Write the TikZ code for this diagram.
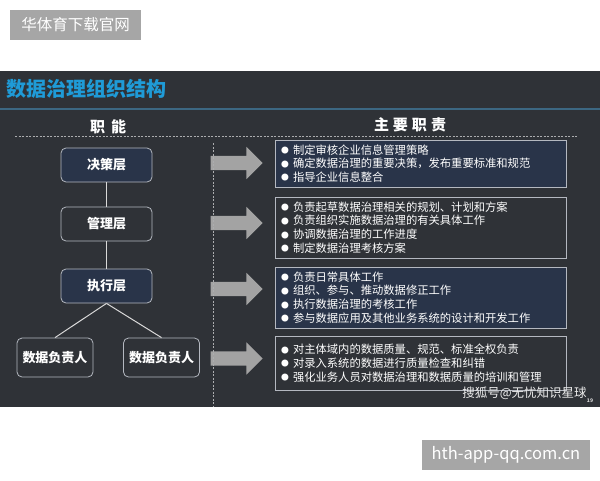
\documentclass[tikz,border=0pt]{standalone}
\usepackage{fontspec}
\setmainfont{Noto Sans CJK SC}
\usepackage{xcolor}
\usetikzlibrary{shapes.arrows,positioning}

\definecolor{slidebg}{HTML}{2F3237}
\definecolor{navyfill}{HTML}{293449}
\definecolor{boxline}{HTML}{B4B8C0}
\definecolor{arrowgray}{HTML}{A3A3A3}
\definecolor{titleblue}{HTML}{1F9BD7}
\definecolor{ruleblue}{HTML}{3C6782}
\definecolor{markgray}{HTML}{A6A6A6}

\newcommand\itm{\makebox[12pt][l]{\raisebox{0.6pt}{\fontsize{7.8}{0}\selectfont ●}}}

\begin{document}
\begin{tikzpicture}[x=1pt, y=-1pt,
    layer/.style={draw=boxline, line width=0.8pt, rounded corners=5pt,
      minimum width=91pt, minimum height=34pt, text=white,
      font=\fontsize{13}{13}\selectfont\bfseries},
    owner/.style={layer, minimum width=76pt, minimum height=39pt},
    duty/.style={draw=boxline, line width=0.8pt, minimum width=291pt,
      text width=279pt, inner xsep=6pt, align=left, text=white,
      font=\fontsize{11.3}{13.7}\selectfont},
    blockarrow/.style={single arrow, fill=arrowgray, draw=none,
      minimum height=52pt, inner xsep=0pt, inner ysep=7pt,
      single arrow head extend=9pt},
    conn/.style={draw=white!85!black, line width=1pt},
    guide/.style={draw=white!60!slidebg, line width=0.6pt,
      dash pattern=on 2pt off 1.5pt},
    wmark/.style={fill=markgray, text=white, inner sep=0pt,
      font=\fontsize{15.5}{16}\selectfont}]

  \useasboundingbox[fill=white] (0,0) rectangle (600,480);

  % watermarks outside the slide
  \node[wmark, minimum width=131pt, minimum height=30pt] (topmark) at (75.5,25) {华体育下载官网};
  \node[wmark, minimum width=168pt, minimum height=30pt, font=\fontsize{16.5}{17}\selectfont] (botmark) at (506,455) {hth-app-qq.com.cn};

  % slide
  \fill[slidebg] (0,71) rectangle (600,407);
  \node[anchor=west, text=titleblue, font=\fontsize{20}{21}\selectfont\bfseries] (title) at (3,89) {数据治理组织结构};
  \draw[ruleblue, line width=1.2pt] (0,109) -- (600,109);

  \node[text=white, font=\fontsize{15}{15}\selectfont\bfseries] (hfun) at (108,126.5) {职\hspace{6pt}能};
  \node[text=white, font=\fontsize{15}{15}\selectfont\bfseries] (hduty) at (410,125) {主\hspace{4pt}要\hspace{4pt}职\hspace{4pt}责};
  \coordinate (hl) at (15,136.5);
  \coordinate (hr) at (578,136.5);
  \draw[guide] (hl) -- (hr);

  % layers
  \node[layer, fill=navyfill] (jc) at (106.5,165) {决策层};
  \node[layer] (gl) at (106.5,224) {管理层};
  \node[layer, fill=navyfill] (zx) at (106.5,286) {执行层};
  \node[owner] (fz1) at (55,357.5) {数据负责人};
  \node[owner] (fz2) at (161.5,357.5) {数据负责人};

  \draw[conn] (jc) -- (gl);
  \draw[conn] (gl) -- (zx);
  \draw[conn] (zx.south) -- (fz1.north);
  \draw[conn] (zx.south) -- (fz2.north);

  % arrows
  \node[blockarrow] (a1) at (233,163) {};
  \node[blockarrow] (a2) at (233,223) {};
  \node[blockarrow] (a3) at (233,289) {};
  \node[blockarrow] (a4) at (233,358.5) {};

  \coordinate (vt) at (213,143);
  \coordinate (vb) at (213,407);
  \draw[guide] (vt) -- (vb);

  % duties
  \node[duty, fill=navyfill, minimum height=47pt] (d1) at (420.5,163.5) {%
    \itm 制定审核企业信息管理策略\\
    \itm 确定数据治理的重要决策，发布重要标准和规范\\
    \itm 指导企业信息整合};
  \node[duty, minimum height=61pt] (d2) at (420.5,227.5) {%
    \itm 负责起草数据治理相关的规划、计划和方案\\
    \itm 负责组织实施数据治理的有关具体工作\\
    \itm 协调数据治理的工作进度\\
    \itm 制定数据治理考核方案};
  \node[duty, fill=navyfill, minimum height=61pt] (d3) at (420.5,297.5) {%
    \itm 负责日常具体工作\\
    \itm 组织、参与、推动数据修正工作\\
    \itm 执行数据治理的考核工作\\
    \itm 参与数据应用及其他业务系统的设计和开发工作};
  \node[duty, minimum height=54pt] (d4) at (420.5,363) {%
    \itm 对主体域内的数据质量、规范、标准全权负责\\
    \itm 对录入系统的数据进行质量检查和纠错\\
    \itm 强化业务人员对数据治理和数据质量的培训和管理};

  \node[text=white!92!black, font=\fontsize{12.5}{13}\selectfont] (sohu) at (524.5,393) {搜狐号@无忧知识星球};
  \node[text=white!85!black, font=\fontsize{5}{5}\selectfont\bfseries, inner sep=0pt] (page) at (590,401) {19};
\end{tikzpicture}
\end{document}
